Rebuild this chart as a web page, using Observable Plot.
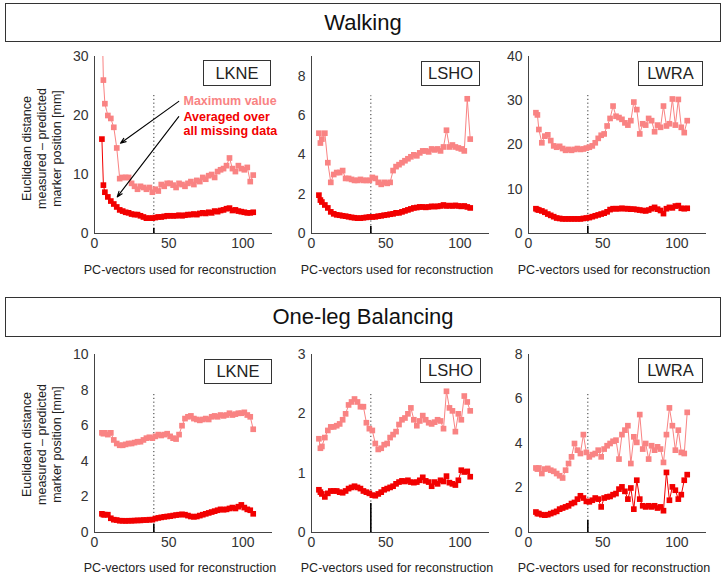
<!DOCTYPE html>
<html><head><meta charset="utf-8">
<script src="https://cdn.jsdelivr.net/npm/d3@7"></script>
<script src="https://cdn.jsdelivr.net/npm/@observablehq/plot@0.6"></script>
<style>
body{margin:0;background:#fff;font-family:"Liberation Sans",Arial,sans-serif;}
#root{position:relative;width:726px;height:577px;overflow:hidden;background:#fff;}
.titlebox{position:absolute;border:1.5px solid #333;box-sizing:border-box;display:flex;align-items:center;justify-content:center;font-size:22px;color:#111;background:#fff;}
.markbox{position:absolute;border:1.5px solid #333;box-sizing:border-box;display:flex;align-items:center;justify-content:center;font-size:16.5px;color:#222;background:#fff;}
.xlabel{position:absolute;font-size:12.5px;color:#222;text-align:center;width:240px;line-height:16px;white-space:nowrap;}
.ylabel{position:absolute;width:160px;height:45px;transform:rotate(-90deg);transform-origin:50% 50%;font-size:12.5px;line-height:15px;text-align:center;color:#222;white-space:nowrap;}
.pl{position:absolute;}
</style>
</head><body><div id="root"></div>
<script>
// ---------- data ----------
const pcVectors = [5,6,7,9,11,13,15,17,19,21,23,25,27,29,31,33,35,37,39,41,43,45,47,49,51,53,55,57,59,61,63,65,67,69,71,73,75,77,79,81,83,85,87,89,91,93,95,97,99,101,103,105,107];

const walkLKNEmax = [38,26,22,20,19.5,18,14.5,9.3,9.5,9.5,9.5,8.5,8,7.5,8,7.8,7.5,7.8,7,7.5,7.2,8.3,8,8.5,8.5,8.2,7.8,8.5,8.3,8,8.5,8.8,8.3,9,8.8,9.5,9.2,9.8,10,9.5,10.5,10.8,11,11.5,12.8,11,10.5,11.5,11,10.8,11.2,8.8,9.9];
const walkLKNEavg = [16,8.2,7,6.2,5.5,5,4.5,4,3.8,3.6,3.5,3.3,3.2,3.2,3,2.8,2.6,2.6,2.6,2.7,2.8,2.8,2.9,3,3,3,3,3.1,3,3.1,3.2,3.2,3.3,3.2,3.4,3.5,3.4,3.6,3.5,3.8,3.7,3.9,4,4.2,4.3,3.9,4,3.8,3.7,3.6,3.5,3.5,3.6];

const walkLSHOmax = [5.1,4.6,4.8,5.1,3.6,2.6,3.0,3.1,3.1,3.2,2.8,2.8,2.75,2.7,2.7,2.75,2.7,2.7,2.7,2.85,2.8,2.6,2.5,2.6,2.55,2.6,3.2,3.4,3.5,3.6,3.7,3.8,3.9,4.0,3.95,4.1,4.2,4.2,4.15,4.3,4.25,4.3,4.2,4.4,5.25,4.4,4.5,4.4,4.35,4.3,4.2,6.85,4.8];
const walkLSHOavg = [1.95,1.7,1.6,1.45,1.3,1.1,1.0,0.95,0.93,0.9,0.88,0.85,0.82,0.8,0.78,0.78,0.8,0.82,0.84,0.84,0.85,0.88,0.9,0.93,0.95,0.98,1.0,1.05,1.05,1.1,1.15,1.2,1.25,1.3,1.32,1.35,1.35,1.33,1.35,1.38,1.37,1.38,1.4,1.45,1.4,1.42,1.4,1.43,1.4,1.38,1.4,1.35,1.3];

const walkLWRAmax = [27.3,26.8,23.5,20.5,22,22.3,21,19.8,19.5,19.7,19.2,18.8,19,18.8,19,19.2,19,19.1,19.3,19.5,19.8,20.5,21.5,22.2,22.5,24.3,26,28.8,26.5,26.2,25.8,25,24.5,25.5,29.7,28,22.5,24.8,24.5,26,25.5,23,24.5,24,28.8,24.3,24.8,30.4,24.5,30.3,24,22.8,25.5];
const walkLWRAavg = [5.6,5.4,5.3,5.1,4.8,4.4,4.1,3.8,3.5,3.4,3.3,3.3,3.3,3.3,3.3,3.3,3.3,3.4,3.5,3.6,3.8,4,4.2,4.4,4.6,4.9,5.4,5.6,5.6,5.6,5.7,5.6,5.6,5.5,5.5,5.4,5.3,5.2,5.1,5.3,5.6,5.9,5.5,5.2,4.5,5.6,5.9,5.8,6.2,6.3,5.7,5.6,5.7];

const balLKNEmax = [5.6,5.55,5.6,5.5,5.6,5.2,5.0,4.9,4.9,4.95,5.0,5.0,5.05,5.1,5.1,5.2,5.3,5.35,5.3,5.4,5.5,5.45,5.5,5.55,5.4,5.3,5.25,5.5,6.0,6.4,6.5,6.55,6.4,6.35,6.3,6.35,6.4,6.35,6.5,6.55,6.5,6.6,6.55,6.6,6.7,6.6,6.65,6.7,6.7,6.75,6.6,6.5,5.8];
const balLKNEavg = [1.05,1.0,1.0,1.0,0.8,0.72,0.7,0.66,0.66,0.65,0.66,0.66,0.67,0.68,0.68,0.7,0.7,0.72,0.72,0.78,0.82,0.85,0.88,0.9,0.92,0.95,0.98,1.0,1.02,1.0,0.95,0.9,0.88,0.9,0.95,1.0,1.05,1.1,1.15,1.2,1.25,1.3,1.28,1.3,1.35,1.4,1.35,1.45,1.55,1.4,1.3,1.25,1.05];

const balLSHOmax = [1.58,1.42,1.45,1.6,1.72,1.78,1.78,1.8,1.83,1.9,2.0,2.15,2.2,2.25,2.2,2.12,2.12,1.85,1.75,1.72,1.5,1.4,1.42,1.48,1.5,1.6,1.65,1.7,1.82,1.9,1.93,2.0,2.1,1.9,1.8,1.88,1.97,1.9,1.85,1.83,1.86,1.9,1.88,1.75,2.38,2.1,2.05,1.7,2.0,1.9,2.3,2.2,2.05];
const balLSHOavg = [0.72,0.68,0.65,0.6,0.66,0.7,0.7,0.7,0.68,0.67,0.7,0.74,0.76,0.78,0.76,0.74,0.7,0.68,0.66,0.63,0.62,0.65,0.68,0.72,0.74,0.76,0.78,0.82,0.85,0.87,0.86,0.88,0.85,0.84,0.85,0.88,0.93,0.87,0.85,0.78,0.85,0.82,0.88,0.86,0.95,0.84,0.82,0.8,0.88,1.05,1.02,1.03,0.94];

const balLWRAmax = [2.9,2.85,2.9,2.65,2.85,2.88,2.8,2.75,2.65,2.55,2.45,2.8,3.1,3.4,4.0,3.7,3.55,4.4,3.6,3.4,3.5,3.55,3.7,3.4,3.75,3.9,4.0,4.1,4.15,3.3,4.4,4.6,4.8,3.1,4.3,4.05,5.3,3.75,4.0,3.3,3.9,3.7,3.85,3.75,3.15,4.4,5.6,4.8,3.7,4.6,3.6,3.55,5.4];
const balLWRAavg = [0.92,0.85,0.85,0.8,0.78,0.8,0.85,0.9,0.95,1.05,1.1,1.15,1.2,1.3,1.35,1.5,1.65,1.55,1.4,1.38,1.45,1.55,1.5,1.15,1.55,1.6,1.62,1.7,1.75,1.95,2.05,1.85,1.5,2.0,1.05,2.35,1.5,1.2,1.15,1.2,1.15,1.2,1.1,1.15,0.98,2.7,1.45,2.05,1.9,1.5,1.7,2.35,2.6];

const tasks = ["Walking", "One-leg Balancing"];
const markers = ["LKNE", "LSHO", "LWRA"];
const xTicks = [0, 50, 100];
const yMaxes = [[30, 9, 40], [10, 3, 8]];
const yTickLists = [[[0,10,20,30],[0,2,4,6,8],[0,10,20,30,40]], [[0,2,4,6,8,10],[0,1,2,3],[0,2,4,6,8]]];
const chosenPC = 40;
const dottedTop = [[23.4, 7.0, 31.2], [7.8, 2.34, 6.24]];
const solidTop = [[0.9, 0.35, 1.6], [0.45, 0.49, 0.54]];
const maxSeries = [[walkLKNEmax, walkLSHOmax, walkLWRAmax], [balLKNEmax, balLSHOmax, balLWRAmax]];
const avgSeries = [[walkLKNEavg, walkLSHOavg, walkLWRAavg], [balLKNEavg, balLSHOavg, balLWRAavg]];

const annotText = ["Maximum value", "Averaged over", "all missing data"];
const annotX = [60, 60, 60];
const annotY = [22.5, 19.8, 17.3];
const arrowStartX = [56.8, 56.8], arrowStartY = [22.4, 19.8];
const arrowEndX = [17.5, 15.3], arrowEndY = [15.3, 6.2];

// ---------- layout ----------
const PINK = "#f98383", RED = "#f20000";
const root = document.getElementById("root");
const axisLeft = [94, 311, 528];
const rowTop = [56, 354], rowBottom = [233, 532];
const axisW = 178;
const titleBoxes = [{l:5, t:3, w:716, h:39}, {l:5, t:297, w:716, h:40}];
const markBoxes = [
  [{l:203,t:60,w:68,h:26},{l:421,t:61,w:59,h:25},{l:638,t:61,w:65,h:25}],
  [{l:204,t:359,w:68,h:25},{l:420,t:358,w:61,h:25},{l:638,t:358,w:65,h:25}]
];
const xLabelY = [262, 560];
const yLabelCenter = [148, 444];

function el(cls, style, html) {
  const d = document.createElement("div");
  d.className = cls;
  Object.assign(d.style, style);
  d.innerHTML = html;
  root.appendChild(d);
  return d;
}

tasks.forEach((task, r) => {
  const tb = titleBoxes[r];
  el("titlebox", {left: tb.l+"px", top: tb.t+"px", width: tb.w+"px", height: tb.h+"px"}, task);
  el("ylabel", {left: (42-80)+"px", top: (yLabelCenter[r]-22.5)+"px"},
     "Euclidean distance<br>measured – predicted<br>marker position [mm]");

  markers.forEach((mk, c) => {
    const ml = 40, mr = 20, mt = 10, mb = 30;
    const plotH = rowBottom[r] - rowTop[r];
    const maxData = pcVectors.map((x, i) => ({x, y: maxSeries[r][c][i]}));
    const avgData = pcVectors.map((x, i) => ({x, y: avgSeries[r][c][i]}));
    const marks = [
      Plot.ruleX([chosenPC], {y1: 0, y2: dottedTop[r][c], stroke: "#333", strokeWidth: 1, strokeDasharray: "1.2,2.6"}),
      Plot.ruleX([chosenPC], {y1: 0, y2: solidTop[r][c], stroke: "#000", strokeWidth: 1.6}),
      Plot.line(maxData, {x: "x", y: "y", stroke: PINK, strokeWidth: 1, clip: true}),
      Plot.dot(maxData, {x: "x", y: "y", symbol: "square", r: 3.2, fill: PINK, stroke: "none", clip: true}),
      Plot.line(avgData, {x: "x", y: "y", stroke: RED, strokeWidth: 1, clip: true}),
      Plot.dot(avgData, {x: "x", y: "y", symbol: "square", r: 3.2, fill: RED, stroke: "none", clip: true}),
      Plot.ruleY([0], {stroke: "#444", strokeWidth: 1}),
      Plot.ruleX([0], {stroke: "#444", strokeWidth: 1})
    ];
    if (r === 0 && c === 0) {
      const annot = annotText.map((t, i) => ({t, x: annotX[i], y: annotY[i]}));
      const arrows = arrowStartX.map((x1, i) => ({x1, y1: arrowStartY[i], x2: arrowEndX[i], y2: arrowEndY[i]}));
      marks.push(
        Plot.arrow(arrows, {x1: "x1", y1: "y1", x2: "x2", y2: "y2", stroke: "#000", strokeWidth: 1.1, headLength: 8, headAngle: 40}),
        Plot.text(annot.slice(0, 1), {x: "x", y: "y", text: "t", fill: PINK, fontWeight: "bold", fontSize: 12.5, textAnchor: "start"}),
        Plot.text(annot.slice(1), {x: "x", y: "y", text: "t", fill: RED, fontWeight: "bold", fontSize: 12.5, textAnchor: "start"})
      );
    }
    const p = Plot.plot({
      width: axisW + ml + mr, height: plotH + mt + mb,
      marginLeft: ml, marginRight: mr, marginTop: mt, marginBottom: mb,
      style: {background: "transparent", overflow: "visible", fontFamily: "'Liberation Sans', Arial, sans-serif", fontSize: "14px", color: "#333"},
      x: {domain: [0, 120], ticks: xTicks, tickSize: 0, tickPadding: 5, tickFormat: d => String(d), label: null},
      y: {domain: [0, yMaxes[r][c]], ticks: yTickLists[r][c], tickSize: 0, tickPadding: 6, tickFormat: d => String(d), label: null},
      marks
    });
    const holder = el("pl", {left: (axisLeft[c]-ml)+"px", top: (rowTop[r]-mt)+"px"}, "");
    holder.appendChild(p);

    const mb2 = markBoxes[r][c];
    el("markbox", {left: mb2.l+"px", top: mb2.t+"px", width: mb2.w+"px", height: mb2.h+"px"}, mk);
    el("xlabel", {left: (axisLeft[c] + axisW/2 - 3 - 120)+"px", top: xLabelY[r]+"px"}, "PC-vectors used for reconstruction");
  });
});
</script>
</body></html>
